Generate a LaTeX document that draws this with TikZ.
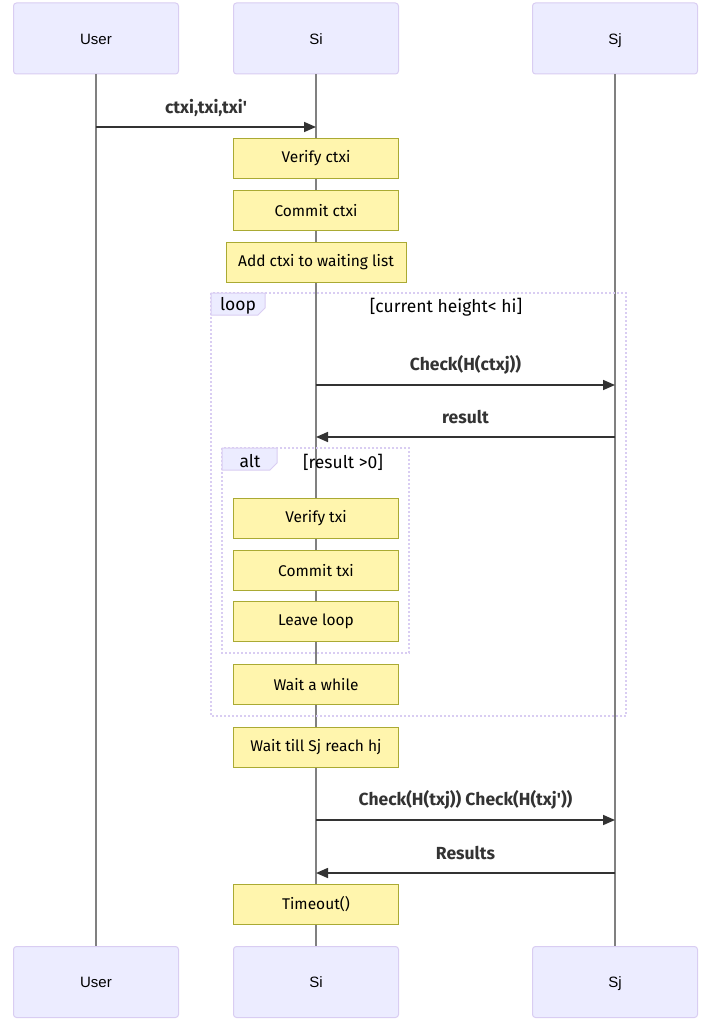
\documentclass[tikz,border=0pt]{standalone}
\usepackage{fontspec}
\setmainfont{Liberation Sans}
\newfontfamily\notefont{Fira Sans}
\usetikzlibrary{arrows.meta}

\definecolor{actorfill}{HTML}{ECECFF}
\definecolor{actorline}{HTML}{D9CDF2}
\definecolor{notefill}{HTML}{FFF5AD}
\definecolor{noteline}{HTML}{AAAA33}
\definecolor{msgline}{HTML}{333333}
\definecolor{lifeline}{HTML}{808080}

\begin{document}
\begin{tikzpicture}[x=1pt, y=-1pt,
  actor/.style={draw=actorline, fill=actorfill, line width=1pt, rounded corners=3pt,
    minimum width=165pt, minimum height=71pt, text height=11.5pt, text depth=0pt,
    font=\fontsize{15}{18}\selectfont},
  note/.style={draw=noteline, fill=notefill, line width=1pt,
    minimum width=165pt, minimum height=40pt, font=\notefont\fontsize{15.5}{18}\selectfont},
  msg/.style={draw=msgline, line width=1.6pt, -{Triangle[length=12pt,width=10pt]}},
  msglabel/.style={font=\notefont\bfseries\fontsize{17.5}{20}\selectfont, text=msgline},
  life/.style={draw=lifeline, line width=1.3pt},
  frame/.style={draw=actorline, line width=1.5pt, dash pattern=on 2pt off 2pt},
  tab/.style={draw=actorline, fill=actorfill, line width=1pt},
  cond/.style={font=\notefont\fontsize{17.5}{20}\selectfont}]
  \useasboundingbox (0,0) rectangle (713,1019);

  % Actors
  \node[actor] (uTop) at (96,38.5) {User};
  \node[actor] (siTop) at (316,38.5) {Si};
  \node[actor] (sjTop) at (615,38.5) {Sj};
  \node[actor] (uBot) at (96,982) {User};
  \node[actor] (siBot) at (316,982) {Si};
  \node[actor] (sjBot) at (615,982) {Sj};

  % Lifelines
  \draw[life] (uTop.south) -- (uBot.north);
  \draw[life] (siTop.south) -- (siBot.north);
  \draw[life] (sjTop.south) -- (sjBot.north);

  % Message points
  \coordinate (u1) at (96,127);
  \coordinate (si1) at (316,127);
  \coordinate (si2) at (316,385);
  \coordinate (sj2) at (615,385);
  \coordinate (si3) at (316,437);
  \coordinate (sj3) at (615,437);
  \coordinate (si4) at (316,820);
  \coordinate (sj4) at (615,820);
  \coordinate (si5) at (316,873);
  \coordinate (sj5) at (615,873);

  % User to Si
  \draw[msg] (u1) -- (si1) node[msglabel, midway, yshift=19pt] (l1) {ctxi,txi,txi'};
  \node[note] (vctxi) at (316,158.5) {Verify ctxi};
  \node[note] (cctxi) at (316,210.5) {Commit ctxi};
  \node[note, minimum width=180pt] (addw) at (316,262) {Add ctxi to waiting list};

  % Loop
  \draw[frame] (211,293) rectangle (626,716);
  \draw[tab] (211,293) -- (265,293) -- (265,308) -- (258,315) -- (211,315) -- cycle;
  \node[cond] (loopl) at (238,306) {loop};
  \node[cond] (loopc) at (446,307) {[current height< hi]};
  \draw[msg] (si2) -- (sj2) node[msglabel, midway, yshift=20pt] (l2) {Check(H(ctxj))};
  \draw[msg] (sj3) -- (si3) node[msglabel, midway, yshift=20pt] (l3) {result};

  % Alt
  \draw[frame] (222,448) rectangle (409,653);
  \draw[tab] (222,448) -- (277,448) -- (277,463) -- (270,470) -- (222,470) -- cycle;
  \node[cond] (altl) at (250,461) {alt};
  \node[cond] (altc) at (343,462) {[result >0]};
  \node[note] (vtxi) at (316,518.5) {Verify txi};
  \node[note] (ctxi) at (316,570.5) {Commit txi};
  \node[note] (leave) at (316,621.5) {Leave loop};
  \node[note] (wait) at (316,684.5) {Wait a while};

  % After loop
  \node[note] (waitsj) at (316,747) {Wait till Sj reach hj};
  \draw[msg] (si4) -- (sj4) node[msglabel, midway, yshift=20pt] (l4) {Check(H(txj)) Check(H(txj'))};
  \draw[msg] (sj5) -- (si5) node[msglabel, midway, yshift=20pt] (l5) {Results};
  \node[note] (tout) at (316,904.5) {Timeout()};
\end{tikzpicture}
\end{document}
